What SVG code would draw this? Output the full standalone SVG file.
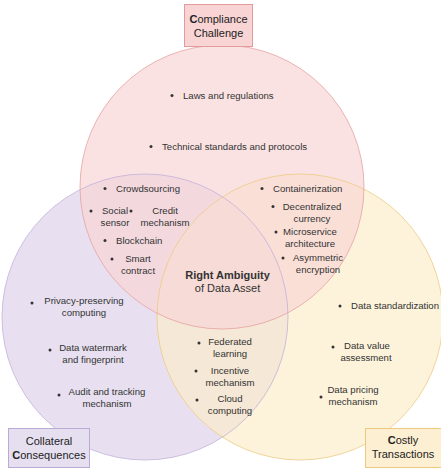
<svg xmlns="http://www.w3.org/2000/svg" width="441" height="470" viewBox="0 0 441 470">
<style>
text{font-family:"Liberation Sans",Arial,Helvetica,sans-serif;fill:#333;}
.t{font-size:9.6px;}
.c{text-anchor:middle;}
.lbl{font-size:11px;text-anchor:middle;fill:#222;}
.b{font-weight:bold;}
.dot{fill:#333;}
.pf{fill:#e8e0f0;stroke:none;}
.yf{fill:#fcecc8;fill-opacity:0.65;stroke:none;}
.rf{fill:#f8d6d6;fill-opacity:0.7;stroke:none;}
.ps{fill:none;stroke:#c2b2da;stroke-opacity:0.8;}
.ys{fill:none;stroke:#edcb85;stroke-opacity:0.8;}
.rs{fill:none;stroke:#e6a2a2;stroke-opacity:0.8;}
</style>
<g id="sets">
<circle id="circle-collateral" class="pf" cx="145" cy="317" r="143"/>
<circle id="circle-costly" class="yf" cx="300" cy="317" r="143"/>
<circle id="circle-compliance" class="rf" cx="222" cy="187" r="142"/>
<circle class="ps" cx="145" cy="317" r="143"/>
<circle class="ys" cx="300" cy="317" r="143"/>
<circle class="rs" cx="222" cy="187" r="142"/>
</g>
<g id="connectors"></g>
<g id="label-compliance">
<rect x="184.5" y="4.5" width="68" height="42" fill="#f8d4d4" stroke="#e39a9a"/>
<text class="lbl" x="218.5" y="23"><tspan class="b">C</tspan>ompliance</text>
<text class="lbl" x="218.5" y="37">Challenge</text>
</g>
<g id="label-collateral">
<rect x="8.5" y="428.5" width="81" height="39" fill="#e6dff0" stroke="#bcaad6"/>
<text class="lbl" x="49" y="445">Collateral</text>
<text class="lbl" x="49" y="459"><tspan class="b">C</tspan>onsequences</text>
</g>
<g id="label-costly">
<rect x="365.5" y="428.5" width="80" height="39" fill="#fcefd2" stroke="#ecc97e"/>
<text class="lbl" x="403" y="444"><tspan class="b">C</tspan>ostly</text>
<text class="lbl" x="403" y="458">Transactions</text>
</g>
<g id="center">
<text x="227.5" y="279" font-size="11" class="c b" fill="#222">Right Ambiguity</text>
<text x="227.5" y="292" font-size="11" class="c">of Data Asset</text>
</g>
<g id="compliance-items">
<circle class="dot" cx="172" cy="95.5" r="1.5"/><text class="t" x="183" y="99">Laws and regulations</text>
<circle class="dot" cx="151" cy="146.5" r="1.5"/><text class="t" x="162" y="150">Technical standards and protocols</text>
</g>
<g id="compliance-collateral-items">
<circle class="dot" cx="105" cy="188.5" r="1.5"/><text class="t" x="116" y="192">Crowdsourcing</text>
<circle class="dot" cx="91" cy="211" r="1.5"/><text class="t c" x="115" y="214">Social</text><text class="t c" x="115" y="226">sensor</text>
<circle class="dot" cx="131" cy="211" r="1.5"/><text class="t c" x="165" y="214">Credit</text><text class="t c" x="165" y="226">mechanism</text>
<circle class="dot" cx="105" cy="240.5" r="1.5"/><text class="t" x="116" y="244">Blockchain</text>
<circle class="dot" cx="112" cy="259" r="1.5"/><text class="t c" x="138" y="262">Smart</text><text class="t c" x="138" y="274">contract</text>
</g>
<g id="compliance-costly-items">
<circle class="dot" cx="262" cy="188.5" r="1.5"/><text class="t" x="273" y="192">Containerization</text>
<circle class="dot" cx="273" cy="206.5" r="1.5"/><text class="t c" x="312" y="210">Decentralized</text><text class="t c" x="312" y="222">currency</text>
<circle class="dot" cx="276" cy="232" r="1.5"/><text class="t c" x="310" y="235">Microservice</text><text class="t c" x="310" y="247">architecture</text>
<circle class="dot" cx="283" cy="258" r="1.5"/><text class="t c" x="318" y="261">Asymmetric</text><text class="t c" x="318" y="273">encryption</text>
</g>
<g id="collateral-items">
<circle class="dot" cx="32" cy="303" r="1.5"/><text class="t c" x="84" y="304">Privacy-preserving</text><text class="t c" x="84" y="316">computing</text>
<circle class="dot" cx="50" cy="350" r="1.5"/><text class="t c" x="93" y="351">Data watermark</text><text class="t c" x="93" y="363">and fingerprint</text>
<circle class="dot" cx="59" cy="395" r="1.5"/><text class="t c" x="107" y="395">Audit and tracking</text><text class="t c" x="107" y="407">mechanism</text>
</g>
<g id="costly-items">
<circle class="dot" cx="340" cy="306" r="1.5"/><text class="t" x="351" y="309">Data standardization</text>
<circle class="dot" cx="333" cy="347" r="1.5"/><text class="t c" x="367" y="349">Data value</text><text class="t c" x="366" y="361">assessment</text>
<circle class="dot" cx="321" cy="397" r="1.5"/><text class="t c" x="353" y="393">Data pricing</text><text class="t c" x="353" y="405">mechanism</text>
</g>
<g id="collateral-costly-items">
<circle class="dot" cx="199" cy="343" r="1.5"/><text class="t c" x="230" y="345">Federated</text><text class="t c" x="230" y="357">learning</text>
<circle class="dot" cx="196" cy="371" r="1.5"/><text class="t c" x="230" y="374">Incentive</text><text class="t c" x="230" y="386">mechanism</text>
<circle class="dot" cx="197" cy="400" r="1.5"/><text class="t c" x="230" y="402">Cloud</text><text class="t c" x="230" y="414">computing</text>
</g>
</svg>
